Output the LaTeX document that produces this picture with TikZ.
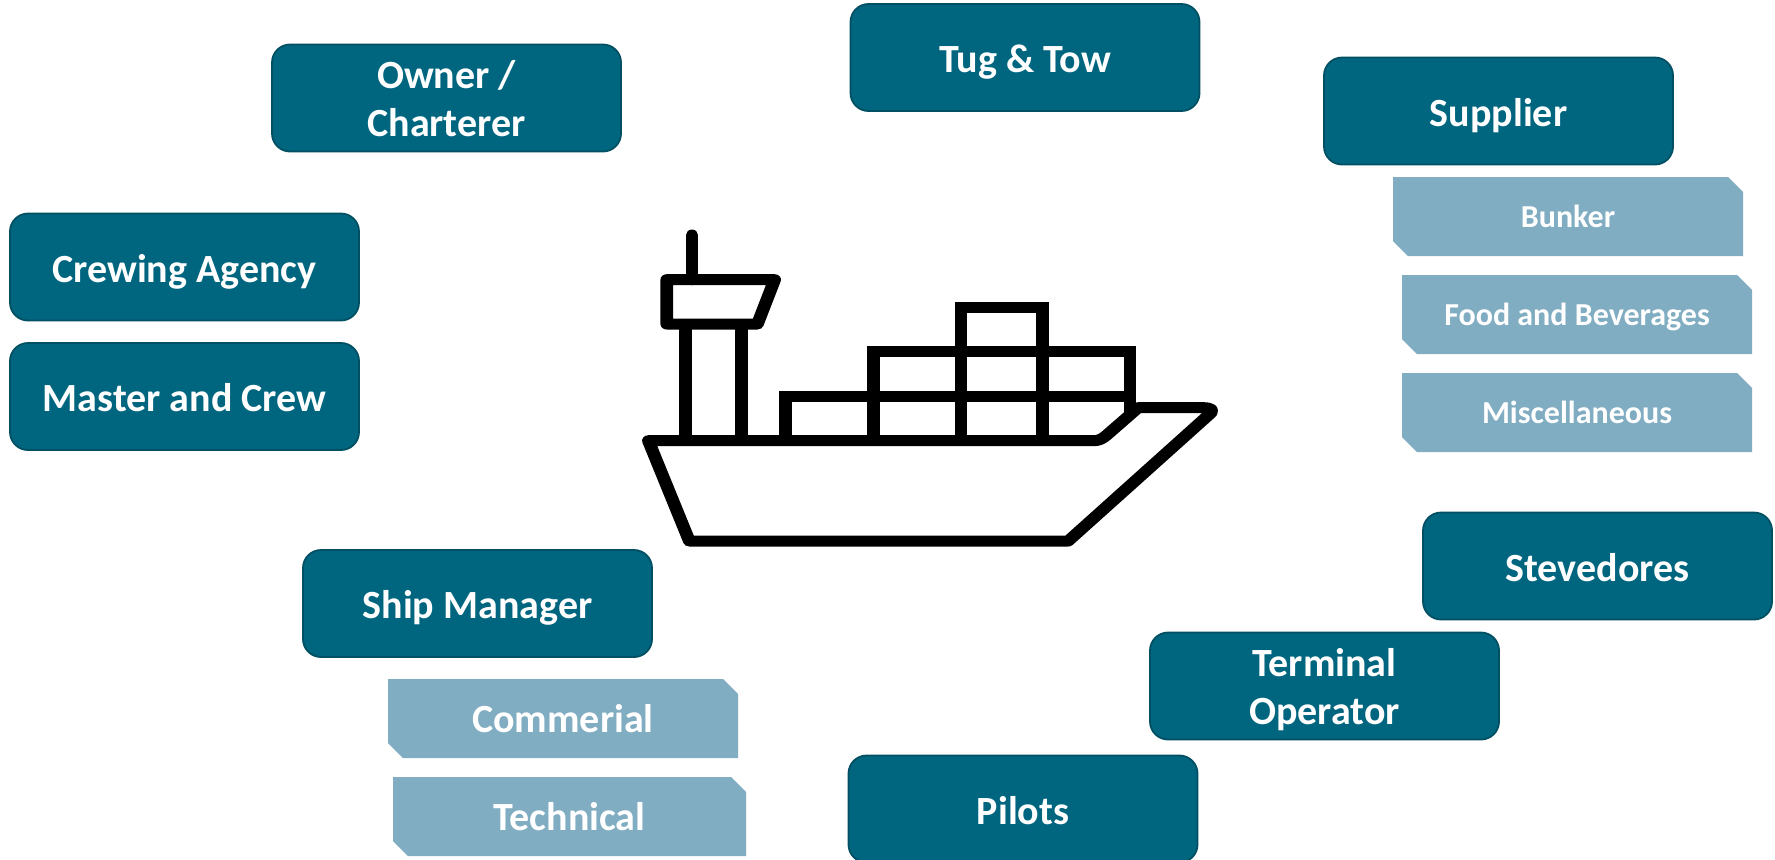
\documentclass[tikz,border=0pt]{standalone}
\usepackage{fontspec}
\setmainfont{Carlito}
\usetikzlibrary{shapes.misc}
\definecolor{darkteal}{HTML}{00667F}
\definecolor{edgeteal}{HTML}{004F62}
\definecolor{lightteal}{HTML}{80ADC2}
\newcommand{\mainstrut}{\rule[-4.5pt]{0pt}{24pt}}
\newcommand{\topstrut}{\rule{0pt}{19.1pt}}
\newcommand{\botstrut}{\rule[-4.5pt]{0pt}{4.5pt}}
\newcommand{\bigtabstrut}{\rule[-4.5pt]{0pt}{23pt}}
\newcommand{\smalltabstrut}{\rule[-4pt]{0pt}{19.4pt}}
\tikzset{
  mainbox/.style={draw=edgeteal,line width=0.9pt,fill=darkteal,rounded corners=9pt,text=white,
    font=\fontsize{20}{24.2}\selectfont\bfseries,align=center,inner sep=0pt,minimum width=174.5pt,minimum height=53.5pt},
  tabbox/.style={fill=lightteal,text=white,chamfered rectangle,chamfered rectangle xsep=3.7pt,chamfered rectangle ysep=3.7pt,
    chamfered rectangle corners={north east,south west},inner sep=0pt,minimum width=175pt,minimum height=39.5pt,align=center},
  tabbig/.style={tabbox,font=\fontsize{20}{24}\selectfont\bfseries},
  tabsmall/.style={tabbox,font=\fontsize{16}{19}\selectfont\bfseries},
  shipline/.style={line width=5.5pt,draw=black,line join=miter},
  shipround/.style={shipline,line join=round,line cap=round}
}
\begin{document}
\begin{tikzpicture}[x=0.5pt,y=-0.5pt]
\useasboundingbox (0,0) rectangle (1775,859);
\node[mainbox] (owner) at (446.5,98) {\topstrut Owner /\\\botstrut Charterer};
\node[mainbox] (tug) at (1025,57.5) {\mainstrut Tug \& Tow};
\node[mainbox] (supplier) at (1498.5,111) {\mainstrut Supplier};
\node[mainbox] (crewing) at (184.5,267) {\mainstrut Crewing Agency};
\node[mainbox] (master) at (184.5,396.5) {\mainstrut Master and Crew};
\node[mainbox] (manager) at (477.5,603.5) {\mainstrut Ship Manager};
\node[mainbox] (stevedores) at (1597.5,566) {\mainstrut Stevedores};
\node[mainbox] (terminal) at (1324.5,686) {\topstrut Terminal\\\botstrut Operator};
\node[mainbox] (pilots) at (1023,809) {\mainstrut Pilots};
\node[tabsmall] (bunker) at (1568,216.5) {\smalltabstrut Bunker};
\node[tabsmall] (food) at (1577,314.5) {\smalltabstrut Food and Beverages};
\node[tabsmall] (misc) at (1577,412.5) {\smalltabstrut Miscellaneous};
\node[tabbig] (commercial) at (563,718.5) {\bigtabstrut Commerial};
\node[tabbig,minimum width=176.5pt] (technical) at (569.5,816.5) {\bigtabstrut Technical};
\begin{scope}[transform canvas={shift={(315pt,-105pt)},xscale=1.148},x=0.16667pt,y=-0.16667pt]
\draw[shipround] (48,692) -- (155,993) -- (1145,993) -- (1514,613) .. controls (1528,600) and (1518,593) .. (1498,593)
  -- (1328,593) -- (1245,676)
  .. controls (1235,686) and (1225,692) .. (1212,692) -- cycle;
\draw[shipround] (162,75) -- (162,209);
\draw[shipround] (96,209) -- (378,209) -- (333,342) -- (96,342) -- cycle;
\draw[shipline] (145,342) -- (145,692);
\draw[shipline] (292,342) -- (292,692);
\draw[shipline] (406,692) -- (406,559) -- (1307,559);
\draw[shipline] (636,692) -- (636,425) -- (1307,425) -- (1307,612);
\draw[shipline] (865,692) -- (865,292) -- (1078,292) -- (1078,692);
\end{scope}
\end{tikzpicture}
\end{document}
